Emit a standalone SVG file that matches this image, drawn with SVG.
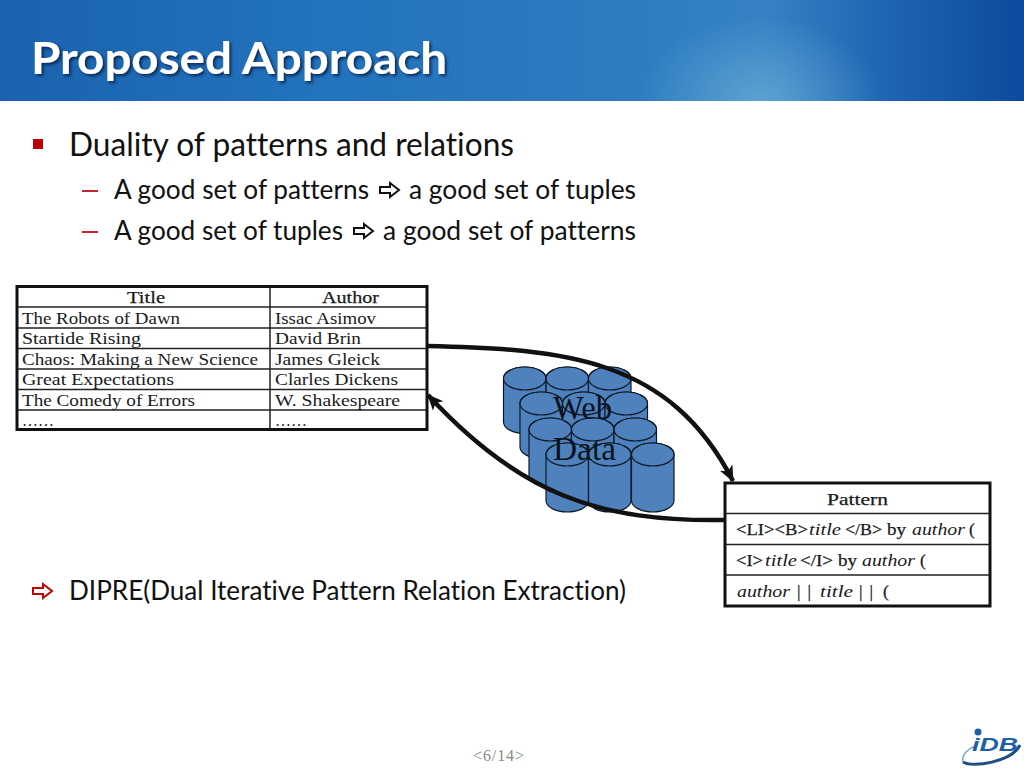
<svg xmlns="http://www.w3.org/2000/svg" width="1024" height="768" viewBox="0 0 1024 768">
<style>
.b{font-family:"Lato","Noto Sans",sans-serif;fill:#111;font-variant-ligatures:none}
.s{font-family:"Liberation Serif","DejaVu Serif",serif;font-size:17.5px;fill:#1a1a1a}
.h{text-anchor:middle}
.m{stroke:#1a1a1a;stroke-width:.25}
.i{font-style:italic}
.a{fill:#fff;stroke:#111;stroke-width:2}
.r{stroke:#c00000}
.o{fill:none;stroke:#111;stroke-width:3}
.l{stroke:#222;stroke-width:1.5;fill:none}
.c{fill:#4f81bd;stroke:#0d1a28;stroke-width:1.2}
.e{fill:none;stroke:#111;stroke-width:4.500}
</style>
<defs>
<linearGradient id="bg" x1="0" x2="1" y1="0" y2="0">
<stop offset="0" stop-color="#1a62ae"/><stop offset=".3" stop-color="#2272bc"/><stop offset=".6" stop-color="#2d7cc0"/><stop offset=".75" stop-color="#3581c3"/><stop offset=".88" stop-color="#1c62b0"/><stop offset="1" stop-color="#0b4a9e"/>
</linearGradient>
<radialGradient id="glow" gradientUnits="userSpaceOnUse" cx="760" cy="100" r="120" gradientTransform="translate(760 100) scale(1 .7) translate(-760 -100)">
<stop offset="0" stop-color="#6cb0d8" stop-opacity=".7"/><stop offset="1" stop-color="#6cb0d8" stop-opacity="0"/>
</radialGradient>
<filter id="sh" x="-5%" y="-20%" width="110%" height="140%"><feDropShadow dx="2" dy="2" stdDeviation="1.5" flood-color="#06234a" flood-opacity=".85"/></filter>
<marker id="ah" markerUnits="userSpaceOnUse" markerWidth="18" markerHeight="16" refX="15" refY="8" orient="auto"><path d="M0 1 L16 8 L0 15 L4 8 Z" fill="#111"/></marker>
<path id="arr" d="M1 -3 H11 V-7 L20 0 L11 7 V3 H1 Z"/>
<symbol id="cyl" overflow="visible"><path class="c" d="M0 11.5 V55 A21.25 11.5 0 0 0 42.5 55 V11.5 A21.25 11.5 0 0 0 0 11.5 Z"/><path class="c" d="M0 11.5 A21.25 11.5 0 0 0 42.5 11.5 A21.25 11.5 0 0 0 0 11.5 Z"/></symbol>
<symbol id="cyl2" overflow="visible"><path class="c" d="M0 11.5 V57.500 A21.25 11.5 0 0 0 42.5 57.500 V11.5 A21.25 11.5 0 0 0 0 11.5 Z"/><path class="c" d="M0 11.5 A21.25 11.5 0 0 0 42.5 11.5 A21.25 11.5 0 0 0 0 11.5 Z"/></symbol>
</defs>

<g id="header">
<rect width="1024" height="101" fill="url(#bg)"/>
<rect width="1024" height="101" fill="url(#glow)"/>
<text x="31" y="74" font-family="Lato,'Noto Sans',sans-serif" font-weight="bold" font-size="44" fill="#fff" filter="url(#sh)" textLength="416" lengthAdjust="spacingAndGlyphs" style="font-variant-ligatures:none">Proposed Approach</text>
</g>

<g id="bullets">
<rect x="33" y="139" width="10" height="10" fill="#c00000"/>
<text class="b" x="69" y="156" font-size="32" textLength="445" lengthAdjust="spacingAndGlyphs">Duality of patterns and relations</text>
<rect x="82" y="190" width="16" height="2" fill="#c0262c"/>
<text class="b" x="114" y="199" font-size="27" textLength="255" lengthAdjust="spacingAndGlyphs">A good set of patterns</text>
<use href="#arr" class="a" x="379" y="190"/>
<text class="b" x="409" y="199" font-size="27" textLength="227" lengthAdjust="spacingAndGlyphs">a good set of tuples</text>
<rect x="82" y="231" width="16" height="2" fill="#c0262c"/>
<text class="b" x="114" y="240" font-size="27" textLength="229" lengthAdjust="spacingAndGlyphs">A good set of tuples</text>
<use href="#arr" class="a" x="353" y="231"/>
<text class="b" x="383" y="240" font-size="27" textLength="253" lengthAdjust="spacingAndGlyphs">a good set of patterns</text>
<use href="#arr" class="a r" x="32" y="591"/>
<text class="b" x="69" y="600" font-size="27" textLength="557" lengthAdjust="spacingAndGlyphs">DIPRE(Dual Iterative Pattern Relation Extraction)</text>
</g>

<g id="web-data">
<use href="#cyl" x="503.5" y="367"/><use href="#cyl" x="546" y="367"/><use href="#cyl" x="588.5" y="367"/>
<use href="#cyl" x="520" y="392"/><use href="#cyl" x="562.5" y="392"/><use href="#cyl" x="605" y="392"/>
<use href="#cyl2" x="529" y="418"/><use href="#cyl2" x="571.5" y="418"/><use href="#cyl2" x="614" y="418"/>
<use href="#cyl2" x="546" y="443"/><use href="#cyl2" x="588.5" y="443"/><use href="#cyl2" x="631.5" y="443"/>
<text x="553" y="419" font-family="'Liberation Serif',serif" font-size="33" fill="#0a1420" textLength="59" lengthAdjust="spacingAndGlyphs">Web</text>
<text x="553" y="460" font-family="'Liberation Serif',serif" font-size="33" fill="#0a1420" textLength="63" lengthAdjust="spacingAndGlyphs">Data</text>
</g>

<g id="tuples-table">
<rect x="17" y="286.500" width="410" height="143" fill="#fff" class="o"/>
<path class="l" d="M270 287V429M18 307H426M18 328H426M18 348.500H426M18 369H426M18 389.500H426M18 410H426"/>
<text class="s h m" x="146" y="303" textLength="38" lengthAdjust="spacingAndGlyphs">Title</text>
<text class="s h m" x="350.500" y="303" textLength="57" lengthAdjust="spacingAndGlyphs">Author</text>
<text class="s" x="22" y="324" textLength="158" lengthAdjust="spacingAndGlyphs">The Robots of Dawn</text>
<text class="s" x="275" y="324" textLength="101" lengthAdjust="spacingAndGlyphs">Issac Asimov</text>
<text class="s" x="22" y="344" textLength="119" lengthAdjust="spacingAndGlyphs">Startide Rising</text>
<text class="s" x="275" y="344" textLength="86" lengthAdjust="spacingAndGlyphs">David Brin</text>
<text class="s" x="22" y="365" textLength="236" lengthAdjust="spacingAndGlyphs">Chaos: Making a New Science</text>
<text class="s" x="275" y="365" textLength="105" lengthAdjust="spacingAndGlyphs">James Gleick</text>
<text class="s" x="22" y="385" textLength="152" lengthAdjust="spacingAndGlyphs">Great Expectations</text>
<text class="s" x="275" y="385" textLength="123" lengthAdjust="spacingAndGlyphs">Clarles Dickens</text>
<text class="s" x="22" y="406" textLength="173" lengthAdjust="spacingAndGlyphs">The Comedy of Errors</text>
<text class="s" x="275" y="406" textLength="125" lengthAdjust="spacingAndGlyphs">W. Shakespeare</text>
<text class="s" x="22" y="426" textLength="32" lengthAdjust="spacingAndGlyphs">……</text>
<text class="s" x="275" y="426" textLength="32" lengthAdjust="spacingAndGlyphs">……</text>
</g>

<g id="pattern-table">
<rect x="725" y="483" width="265" height="123" fill="#fff" class="o"/>
<path class="l" d="M726 513.500H989M726 544.500H989M726 575H989"/>
<text class="s m" x="827" y="505" textLength="61" lengthAdjust="spacingAndGlyphs">Pattern</text>
<text class="s m" x="736" y="535" textLength="72" lengthAdjust="spacingAndGlyphs">&lt;LI&gt;&lt;B&gt;</text>
<text class="s i" x="809" y="535" textLength="32" lengthAdjust="spacingAndGlyphs">title</text>
<text class="s m" x="845" y="535" textLength="37" lengthAdjust="spacingAndGlyphs">&lt;/B&gt;</text>
<text class="s m" x="887" y="535" textLength="19" lengthAdjust="spacingAndGlyphs">by</text>
<text class="s i" x="912" y="535" textLength="53" lengthAdjust="spacingAndGlyphs">author</text>
<text class="s m" x="969" y="535">(</text>
<text class="s m" x="736" y="566" textLength="27" lengthAdjust="spacingAndGlyphs">&lt;I&gt;</text>
<text class="s i" x="765" y="566" textLength="32" lengthAdjust="spacingAndGlyphs">title</text>
<text class="s m" x="800" y="566" textLength="33" lengthAdjust="spacingAndGlyphs">&lt;/I&gt;</text>
<text class="s m" x="838" y="566" textLength="19" lengthAdjust="spacingAndGlyphs">by</text>
<text class="s i" x="862" y="566" textLength="53" lengthAdjust="spacingAndGlyphs">author</text>
<text class="s m" x="920" y="566">(</text>
<text class="s i" x="737" y="597" textLength="53" lengthAdjust="spacingAndGlyphs">author</text>
<text class="s m" x="797" y="597" textLength="14" lengthAdjust="spacing">||</text>
<text class="s i" x="820" y="597" textLength="33" lengthAdjust="spacingAndGlyphs">title</text>
<text class="s m" x="859" y="597" textLength="14" lengthAdjust="spacing">||</text>
<text class="s m" x="883" y="597">(</text>
</g>

<g id="connectors">
<path class="e" marker-end="url(#ah)" d="M427 346 C565 349 670 358 733 481"/>
<path class="e" marker-end="url(#ah)" d="M725 520 C600 522 520 495 428 395"/>
</g>

<g id="footer">
<text x="473" y="761" font-family="'Liberation Serif',serif" font-size="16" fill="#8a8a8a" textLength="51">&lt;6/14&gt;</text>
</g>

<g id="logo">
<circle cx="978" cy="732" r="3.500" fill="#1f5fa8"/>
<path d="M963 762 C972 768 1012 762 1020 745" fill="none" stroke="#1f4f85" stroke-width="3"/>
<path d="M963 762 C961 755 968 749 975 746" fill="none" stroke="#7aa7c9" stroke-width="1.500"/>
<text x="972" y="751" font-family="'Liberation Sans',sans-serif" font-weight="bold" font-style="italic" font-size="19" fill="#1f5fa8" textLength="46" lengthAdjust="spacingAndGlyphs">iDB</text>
</g>
</svg>
